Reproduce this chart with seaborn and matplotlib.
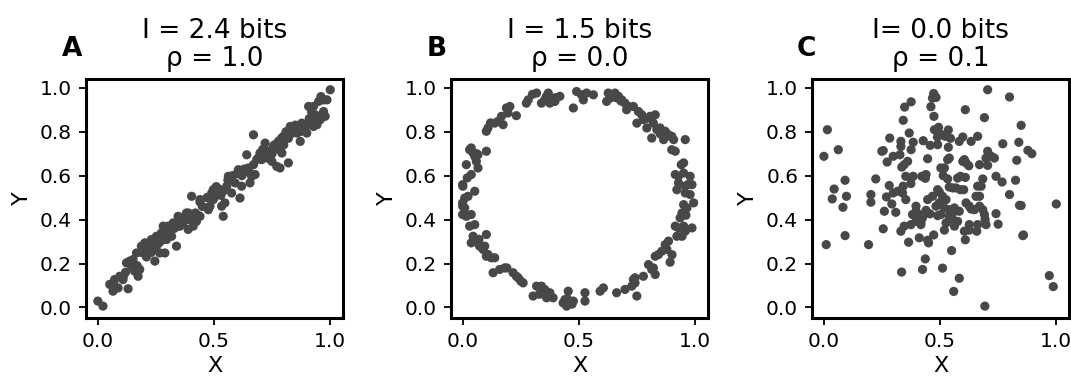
import matplotlib
matplotlib.use("Agg")
import matplotlib.pyplot as plt
import seaborn as sns
import pandas as pd

# ---------------- data ----------------
a_x = [0.001, 0.023, 0.052, 0.073, 0.066, 0.088, 0.131, 0.109, 0.095, 0.124, 0.145, 0.159, 0.174, 0.181,
       0.152, 0.138, 0.167, 0.188, 0.203, 0.210, 0.224, 0.246, 0.267, 0.289, 0.231, 0.253, 0.274, 0.296,
       0.318, 0.339, 0.282, 0.303, 0.325, 0.346, 0.353, 0.368, 0.382, 0.397, 0.411, 0.425, 0.440, 0.389,
       0.404, 0.440, 0.476, 0.483, 0.497, 0.511, 0.497, 0.526, 0.533, 0.540, 0.547, 0.555, 0.576, 0.562,
       0.591, 0.612, 0.605, 0.619, 0.626, 0.641, 0.648, 0.655, 0.662, 0.677, 0.670, 0.684, 0.698, 0.705,
       0.720, 0.727, 0.741, 0.749, 0.756, 0.770, 0.784, 0.777, 0.792, 0.799, 0.813, 0.820, 0.828, 0.842,
       0.856, 0.871, 0.878, 0.885, 0.899, 0.914, 0.928, 0.943, 0.907, 0.928, 0.950, 0.971, 0.978, 0.971,
       0.986, 1.000, 0.935, 0.957,
       0.19, 0.21, 0.22, 0.23, 0.24, 0.25, 0.26, 0.27, 0.28, 0.29, 0.20, 0.23, 0.26, 0.30, 0.31, 0.33,
       0.34, 0.36, 0.37, 0.39, 0.42, 0.45, 0.47, 0.49, 0.50, 0.51, 0.52, 0.53, 0.54, 0.56, 0.58, 0.60,
       0.62, 0.63, 0.65, 0.67, 0.69, 0.70, 0.71, 0.72, 0.73, 0.74, 0.75, 0.76, 0.78, 0.79, 0.80, 0.81,
       0.82, 0.83, 0.84, 0.85, 0.86, 0.87, 0.88, 0.90, 0.91, 0.93, 0.95, 0.96, 0.92, 0.15, 0.17, 0.12,
       0.11, 0.07, 0.35, 0.40, 0.43, 0.44]
a_y = [0.029, 0.006, 0.105, 0.127, 0.074, 0.089, 0.085, 0.127, 0.142, 0.203, 0.188, 0.165, 0.142, 0.173,
       0.218, 0.211, 0.248, 0.279, 0.294, 0.264, 0.279, 0.211, 0.248, 0.248, 0.309, 0.324, 0.339, 0.309,
       0.324, 0.279, 0.370, 0.370, 0.385, 0.415, 0.370, 0.385, 0.430, 0.400, 0.370, 0.392, 0.415, 0.355,
       0.506, 0.491, 0.445, 0.461, 0.491, 0.521, 0.536, 0.521, 0.461, 0.415, 0.476, 0.552, 0.521, 0.597,
       0.567, 0.498, 0.627, 0.552, 0.612, 0.695, 0.635, 0.567, 0.597, 0.605, 0.786, 0.673, 0.703, 0.673,
       0.748, 0.711, 0.688, 0.665, 0.733, 0.642, 0.635, 0.756, 0.703, 0.779, 0.794, 0.658, 0.824, 0.809,
       0.794, 0.756, 0.839, 0.817, 0.794, 0.839, 0.824, 0.832, 0.915, 0.915, 0.938, 0.945, 0.870, 0.892,
       0.945, 0.991, 0.877, 0.855,
       0.25, 0.23, 0.26, 0.25, 0.28, 0.27, 0.29, 0.30, 0.31, 0.32, 0.28, 0.29, 0.32, 0.33, 0.35, 0.36,
       0.37, 0.40, 0.41, 0.43, 0.43, 0.46, 0.50, 0.52, 0.50, 0.55, 0.54, 0.51, 0.53, 0.58, 0.60, 0.61,
       0.60, 0.63, 0.62, 0.65, 0.68, 0.69, 0.72, 0.70, 0.68, 0.71, 0.70, 0.74, 0.72, 0.77, 0.74, 0.80,
       0.77, 0.79, 0.82, 0.83, 0.81, 0.80, 0.82, 0.83, 0.86, 0.84, 0.87, 0.96, 0.89, 0.20, 0.19, 0.16,
       0.14, 0.10, 0.39, 0.40, 0.42, 0.48]

b_x = [0.318, 0.353, 0.368, 0.382, 0.375, 0.397, 0.418, 0.339, 0.274, 0.282, 0.231, 0.188, 0.203, 0.195,
       0.167, 0.152, 0.138, 0.174, 0.109, 0.102, 0.476, 0.490, 0.511, 0.519, 0.533, 0.562, 0.626, 0.634,
       0.641, 0.655, 0.619, 0.670, 0.684, 0.698, 0.713, 0.705, 0.734, 0.756, 0.770, 0.749, 0.777, 0.792,
       0.806, 0.828, 0.820, 0.835, 0.849, 0.813, 0.856, 0.871, 0.885, 0.864, 0.899, 0.907, 0.957, 0.899,
       0.914, 0.950, 0.914, 0.928, 0.950, 0.978, 0.986, 0.928, 0.957, 0.921, 0.957, 0.978, 0.993, 0.950,
       0.964, 0.943, 0.935, 0.914, 0.928, 0.950, 0.986, 0.957, 0.943, 0.921, 0.885, 0.871, 0.878, 0.856,
       0.842, 0.828, 0.892, 0.799, 0.813, 0.828, 0.820, 0.741, 0.734, 0.741, 0.777, 0.727, 0.698, 0.749,
       0.662, 0.605, 0.591, 0.526, 0.526, 0.454, 0.476, 0.440, 0.432, 0.447, 0.389, 0.375, 0.353, 0.339,
       0.318, 0.303, 0.361, 0.260, 0.231, 0.217, 0.239, 0.181, 0.159, 0.131, 0.138, 0.124, 0.102, 0.109,
       0.088, 0.095, 0.073, 0.066, 0.037, 0.045, 0.102, 0.030, 0.052, 0.016, 0.037, 0.000, 0.000, 0.009,
       0.000, 0.023, 0.009, 0.052, 0.000, 0.001, 0.037, 0.016, 0.066, 0.059, 0.052, 0.045, 0.037, 0.030,
       0.066, 0.102,
       0.64, 0.66, 0.68, 0.36, 0.40, 0.30, 0.12, 0.06, 0.02, 0.01, 0.07, 0.96, 0.97, 0.94, 0.88, 0.90,
       0.47, 0.45, 0.33, 0.25, 0.19, 0.85, 0.79]
b_y = [0.976, 0.945, 0.976, 0.953, 0.930, 0.938, 0.961, 0.930, 0.930, 0.945, 0.873, 0.908, 0.915, 0.885,
       0.870, 0.847, 0.839, 0.832, 0.817, 0.802, 0.908, 0.983, 0.968, 0.945, 0.976, 0.968, 0.976, 0.953,
       0.968, 0.976, 0.938, 0.961, 0.945, 0.930, 0.915, 0.900, 0.915, 0.892, 0.877, 0.839, 0.855, 0.817,
       0.870, 0.877, 0.839, 0.809, 0.817, 0.771, 0.794, 0.802, 0.786, 0.764, 0.779, 0.764, 0.764, 0.718,
       0.711, 0.658, 0.605, 0.597, 0.612, 0.597, 0.559, 0.567, 0.552, 0.536, 0.521, 0.514, 0.476, 0.468,
       0.453, 0.430, 0.408, 0.370, 0.362, 0.370, 0.362, 0.347, 0.324, 0.324, 0.302, 0.286, 0.264, 0.256,
       0.241, 0.233, 0.206, 0.195, 0.173, 0.150, 0.180, 0.135, 0.127, 0.112, 0.142, 0.097, 0.082, 0.052,
       0.067, 0.089, 0.074, 0.067, 0.029, 0.074, 0.029, 0.036, 0.021, 0.006, 0.044, 0.067, 0.082, 0.097,
       0.097, 0.052, 0.044, 0.112, 0.142, 0.158, 0.135, 0.180, 0.173, 0.158, 0.226, 0.226, 0.233, 0.241,
       0.264, 0.279, 0.279, 0.294, 0.294, 0.324, 0.332, 0.370, 0.377, 0.415, 0.423, 0.423, 0.461, 0.453,
       0.476, 0.506, 0.498, 0.529, 0.559, 0.552, 0.605, 0.650, 0.635, 0.665, 0.688, 0.703, 0.726, 0.718,
       0.695, 0.711,
       0.965, 0.955, 0.940, 0.960, 0.955, 0.970, 0.840, 0.700, 0.590, 0.420, 0.310, 0.420, 0.560, 0.650,
       0.780, 0.240, 0.015, 0.040, 0.060, 0.120, 0.180, 0.790, 0.860]

c_x = [0.016, 0.001, 0.063, 0.045, 0.037, 0.092, 0.098, 0.083, 0.011, 0.092, 0.193, 0.203, 0.203, 0.224,
       0.256, 0.250, 0.273, 0.284, 0.299, 0.282, 0.270, 0.261, 0.256, 0.293, 0.310, 0.299, 0.318, 0.332,
       0.332, 0.328, 0.336, 0.346, 0.342, 0.348, 0.342, 0.376, 0.368, 0.376, 0.385, 0.361, 0.353, 0.379,
       0.385, 0.375, 0.353, 0.339, 0.332, 0.346, 0.375, 0.365, 0.411, 0.447, 0.451, 0.473, 0.437, 0.425,
       0.335, 0.511, 0.550, 0.583, 0.559, 0.693, 0.609, 0.609, 0.705, 0.799, 0.691, 0.849, 0.770, 0.839,
       0.878, 0.895, 0.830, 0.825, 0.799, 0.849, 0.842, 0.856, 0.859, 0.970, 0.987, 1.000, 0.750, 0.741,
       0.741, 0.767, 0.705, 0.720, 0.698, 0.734, 0.670, 0.705, 0.684, 0.662, 0.677, 0.655, 0.670, 0.670,
       0.684, 0.691, 0.694, 0.698, 0.662, 0.658, 0.626, 0.626, 0.605, 0.648, 0.626, 0.634, 0.612, 0.602,
       0.588, 0.569, 0.555, 0.540, 0.576, 0.588, 0.609, 0.533, 0.514, 0.504, 0.519, 0.533, 0.540, 0.598,
       0.612, 0.624, 0.605, 0.662, 0.634, 0.598, 0.583, 0.545, 0.536, 0.509, 0.523, 0.494, 0.476, 0.489,
       0.458, 0.490, 0.536, 0.447, 0.428, 0.422, 0.437, 0.440, 0.447, 0.468, 0.490, 0.497, 0.511, 0.526,
       0.497, 0.483, 0.519, 0.540, 0.555, 0.562, 0.583, 0.540, 0.555, 0.526, 0.576, 0.562, 0.519, 0.504,
       0.490, 0.457, 0.440, 0.425, 0.411, 0.397, 0.397, 0.382, 0.418, 0.418, 0.397, 0.461, 0.473, 0.468,
       0.483, 0.474]
c_y = [0.809, 0.688, 0.718, 0.539, 0.494, 0.579, 0.506, 0.456, 0.286, 0.327, 0.286, 0.514, 0.479, 0.585,
       0.714, 0.711, 0.662, 0.771, 0.688, 0.555, 0.503, 0.438, 0.358, 0.471, 0.433, 0.521, 0.529, 0.756,
       0.733, 0.695, 0.639, 0.650, 0.552, 0.912, 0.852, 0.936, 0.794, 0.718, 0.752, 0.665, 0.597, 0.592,
       0.597, 0.564, 0.491, 0.521, 0.347, 0.370, 0.377, 0.297, 0.317, 0.306, 0.294, 0.330, 0.221, 0.173,
       0.161, 0.179, 0.259, 0.133, 0.073, 0.006, 0.308, 0.900, 0.991, 0.958, 0.864, 0.829, 0.745, 0.752,
       0.715, 0.700, 0.670, 0.579, 0.514, 0.464, 0.465, 0.327, 0.330, 0.145, 0.095, 0.471, 0.379, 0.427,
       0.597, 0.571, 0.711, 0.688, 0.680, 0.680, 0.650, 0.647, 0.585, 0.552, 0.552, 0.506, 0.506, 0.461,
       0.445, 0.423, 0.400, 0.377, 0.377, 0.347, 0.377, 0.352, 0.347, 0.445, 0.461, 0.448, 0.476, 0.536,
       0.536, 0.544, 0.544, 0.548, 0.589, 0.597, 0.592, 0.585, 0.600, 0.635, 0.635, 0.673, 0.680, 0.665,
       0.658, 0.645, 0.673, 0.779, 0.756, 0.776, 0.756, 0.770, 0.808, 0.786, 0.779, 0.820, 0.809, 0.776,
       0.738, 0.741, 0.729, 0.677, 0.759, 0.597, 0.588, 0.605, 0.491, 0.506, 0.536, 0.526, 0.506, 0.491,
       0.476, 0.461, 0.453, 0.445, 0.430, 0.453, 0.438, 0.415, 0.400, 0.385, 0.392, 0.370, 0.352, 0.423,
       0.418, 0.426, 0.442, 0.408, 0.423, 0.438, 0.461, 0.423, 0.388, 0.377, 0.392, 0.914, 0.974, 0.953,
       0.956, 0.870]

titles = ["I = 2.4 bits\nρ = 1.0", "I = 1.5 bits\nρ = 0.0", "I= 0.0 bits\nρ = 0.1"]
letters = ["A", "B", "C"]
x_ticks = [0.0, 0.5, 1.0]
x_tick_labels = ["0.0", "0.5", "1.0"]
y_ticks = [0.0, 0.2, 0.4, 0.6, 0.8, 1.0]
y_tick_labels = ["0.0", "0.2", "0.4", "0.6", "0.8", "1.0"]

# ---------------- plot ----------------
sns.set_style("ticks")
plt.rcParams['font.family'] = ['DejaVu Sans']
plt.rcParams['text.color'] = 'black'
plt.rcParams['axes.labelcolor'] = 'black'
plt.rcParams['xtick.color'] = 'black'
plt.rcParams['ytick.color'] = 'black'

fig = plt.figure(figsize=(10.71, 3.77), dpi=100)
lefts = [0.0803, 0.4211, 0.7582]
letter_x = [-0.095, -0.095, -0.06]
datasets = [(a_x, a_y), (b_x, b_y), (c_x, c_y)]
dot_color = "#484848"

for i, (xs, ys) in enumerate(datasets):
    ax = fig.add_axes([lefts[i], 0.1565, 0.2400, 0.634])
    df = pd.DataFrame({"X": xs, "Y": ys})
    sns.scatterplot(data=df, x="X", y="Y", ax=ax, color=dot_color, s=44,
                    linewidth=0, edgecolor="none")
    ax.set_xlim(-0.05, 1.055)
    ax.set_ylim(-0.048, 1.04)
    ax.set_xticks(x_ticks)
    ax.set_xticklabels(x_tick_labels)
    ax.set_yticks(y_ticks)
    ax.set_yticklabels(y_tick_labels)
    ax.tick_params(labelsize=14.5, width=1.3, length=5, color="black", labelcolor="black", pad=5)
    for sp in ax.spines.values():
        sp.set_linewidth(2.2)
        sp.set_color("black")
        sp.set_visible(True)
    ax.set_xlabel("X", fontsize=16, labelpad=4, color="black")
    ax.set_ylabel("Y", fontsize=16, labelpad=6, color="black")
    ax.set_title(titles[i], fontsize=19, linespacing=1.1, pad=9.5, color="black")
    ax.text(letter_x[i], 1.096, letters[i], transform=ax.transAxes,
            fontsize=19, fontweight="bold", ha="left", va="baseline", color="black")

fig.savefig("out.png", dpi=100)
